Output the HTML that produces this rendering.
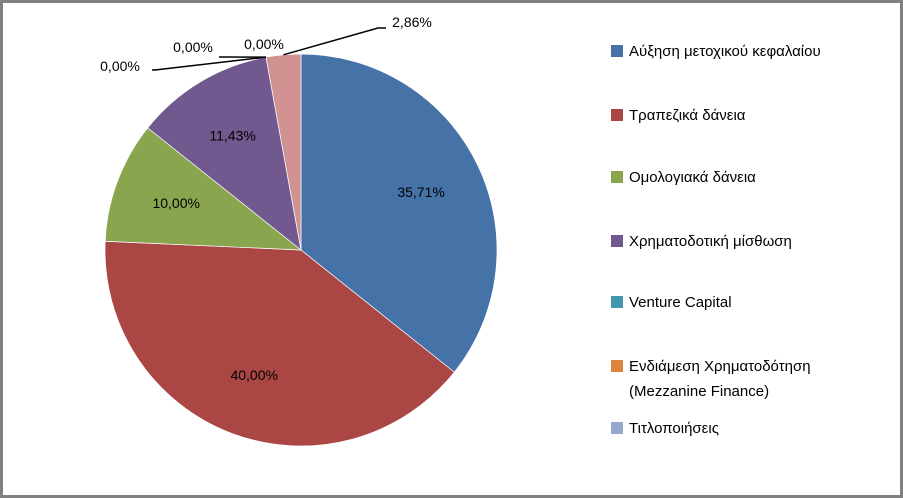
<!DOCTYPE html>
<html><head><meta charset="utf-8"><style>
html,body{margin:0;padding:0;background:#fff}
#c{position:relative;width:903px;height:498px;box-sizing:border-box;border:3px solid #808080;border-top-width:3px;background:#fff;overflow:hidden}
svg text{font-family:"Liberation Sans","DejaVu Sans",sans-serif;font-size:14px;fill:#000}
</style></head><body>
<div id="c">
<svg id="s" width="903" height="498" style="position:absolute;left:-3px;top:-3px"></svg>
</div>
<script>
const categories=["Αύξηση μετοχικού κεφαλαίου","Τραπεζικά δάνεια","Ομολογιακά δάνεια","Χρηματοδοτική μίσθωση","Venture Capital","Ενδιάμεση Χρηματοδότηση (Mezzanine Finance)","Τιτλοποιήσεις",""];
const values=[35.71,40.00,10.00,11.43,0,0,0,2.86];
const valueLabels=["35,71%","40,00%","10,00%","11,43%","0,00%","0,00%","0,00%","2,86%"];
const colors=["#4572A7","#AA4643","#89A54E","#71588F","#4198AF","#DB843D","#93A9CF","#D19392"];
const NS="http://www.w3.org/2000/svg";
const s=document.getElementById('s');
const cx=301,cy=250,r=196;
function mk(t,a){const e=document.createElementNS(NS,t);for(const k in a)e.setAttribute(k,a[k]);s.appendChild(e);return e;}
const total=values.reduce((a,b)=>a+b,0);
function pt(f,rr){const a=f*2*Math.PI-Math.PI/2;return [cx+rr*Math.cos(a),cy+rr*Math.sin(a)];}
let acc=0;
const mids=[];
values.forEach((v,i)=>{
  const f0=acc/total,f1=(acc+v)/total;acc+=v;mids.push((f0+f1)/2);
  if(v<=0)return;
  const p0=pt(f0,r),p1=pt(f1,r);
  const p=mk('path',{d:`M${cx},${cy}L${p0[0]},${p0[1]}A${r},${r} 0 ${(f1-f0)>0.5?1:0} 1 ${p1[0]},${p1[1]}Z`,fill:colors[i],stroke:'#fff','stroke-width':0.7});
  
  
});
// inside labels
const inside=[[0,0.68],[1,0.68],[2,0.68],[3,0.68]];
inside.forEach(([i,k])=>{
  const q=pt(mids[i],r*k);
  const t=mk('text',{x:q[0],y:q[1]+5,'text-anchor':'middle'});t.textContent=valueLabels[i];
  
  
});
// outside labels with leader lines
const ext=[[4,120,71,155,70],[5,193,52,222,57],[6,264,49,null,null],[7,412,27,378,28]];
ext.forEach(([i,x,y,lx,ly])=>{
  const q=pt(mids[i],r);
  if(lx!==null){
    const l=mk('path',{d:i==7?`M${q[0]},${q[1]}L${lx},${ly}L${lx+8},${ly}`:`M${q[0]},${q[1]}L${lx},${ly}L${lx-3},${ly}`,fill:'none',stroke:'#000','stroke-width':1.5});
    
    
  }
  const t=mk('text',{x:x,y:y,'text-anchor':'middle'});t.textContent=valueLabels[i];
  
  
});
// legend
const ly=[51,115,177,241,302,366,428];
for(let i=0;i<7;i++){
  const r0=mk('rect',{x:611,y:ly[i]-6,width:12,height:12,fill:colors[i]});
  
  
  const t=mk('text',{x:629,y:ly[i]+5,style:'font-size:15px'});
  
  
  if(i===5){
    const a=document.createElementNS(NS,'tspan');a.textContent="Ενδιάμεση Χρηματοδότηση";t.appendChild(a);
    const b=document.createElementNS(NS,'tspan');b.setAttribute('x',629);b.setAttribute('dy',25);b.textContent="(Mezzanine Finance)";t.appendChild(b);
  } else t.textContent=categories[i];
}
</script>
</body></html>
